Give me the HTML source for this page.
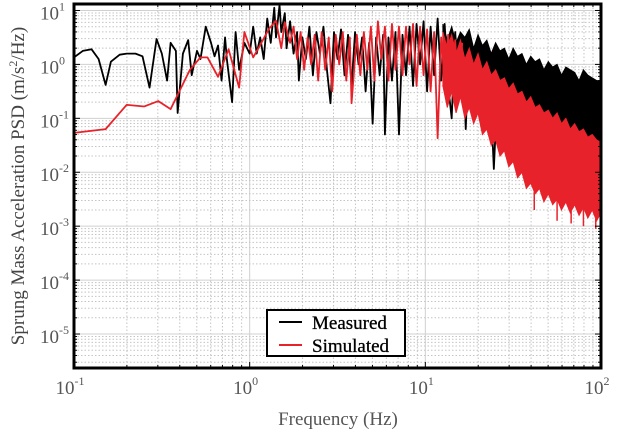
<!DOCTYPE html>
<html><head><meta charset="utf-8"><style>
html,body{margin:0;padding:0;background:#fff;}
svg text{font-family:"Liberation Serif",serif;}
</style></head><body>
<svg id="chart" width="617" height="433" viewBox="0 0 617 433" xmlns="http://www.w3.org/2000/svg">
<g id="grid"></g>
<g id="series"></g>
<g id="axes"></g>
<text x="338" y="425" text-anchor="middle" font-size="19" fill="#555">Frequency (Hz)</text>
<text transform="translate(24,186) rotate(-90)" text-anchor="middle" font-size="19" fill="#444">Sprung Mass Acceleration PSD (m/s<tspan font-size="12" dy="-7">2</tspan><tspan dy="7">/Hz)</tspan></text>
<g>
<rect x="267" y="310" width="138" height="46" fill="#fff" stroke="#000" stroke-width="2"/>
<line x1="279" y1="322" x2="302" y2="322" stroke="#000" stroke-width="2"/>
<text x="312" y="329" font-size="19" fill="#000" stroke="#000" stroke-width="0.3">Measured</text>
<line x1="279" y1="345" x2="302" y2="345" stroke="#e8222a" stroke-width="2"/>
<text x="312" y="352" font-size="19" fill="#000" stroke="#000" stroke-width="0.3">Simulated</text>
</g>
</svg>
<script>
// log10(frequency), log10(PSD)
const measuredLogF = [-1,-0.95,-0.9,-0.86,-0.82,-0.79,-0.74,-0.7,-0.65,-0.61,-0.57,-0.53,-0.5,-0.47,-0.45,-0.42,-0.41,-0.38,-0.35,-0.33,-0.3,-0.28,-0.25,-0.22,-0.2,-0.18,-0.16,-0.14,-0.13,-0.1,-0.08,-0.06,-0.03,0,0.02,0.04,0.06,0.08,0.1,0.12,0.14,0.15,0.17,0.18,0.2,0.21,0.23,0.25,0.27,0.28,0.3,0.32,0.34,0.36,0.38,0.4,0.42,0.44,0.46,0.48,0.5,0.52,0.54,0.56,0.58,0.6,0.62,0.64,0.66,0.68,0.7,0.72,0.74,0.76,0.77,0.79,0.81,0.83,0.85,0.87,0.89,0.91,0.93,0.95,0.97,0.99,1.01,1.03,1.05,1.07,1.09,1.11,1.13,1.15,1.17,1.19,1.21,1.23,1.25,1.27,1.3,1.33,1.36,1.39,1.42];
const measuredLogP = [0.13,0.25,0.28,0.1,-0.38,0.05,0.18,0.2,0.2,0.15,-0.43,0.47,0.2,-0.3,0.4,0.25,-0.9,0.2,0.45,-0.2,0.25,0.1,0.7,0.4,0.15,0.35,-0.3,0.5,0.1,-0.7,0.6,-0.1,0.4,0.2,0.7,0.2,0.5,0.1,0.85,0.4,1.05,0.5,1.1,0.6,0.95,0.3,0.8,0.2,0.6,-0.3,0.5,0.1,0.7,-0.2,0.6,0.2,0.7,-0.1,-0.72,0.6,0.1,0.65,-0.2,0.55,-0.4,0.6,0,0.5,-0.5,0.4,-1.1,0.5,-0.2,0.55,-1.3,0.5,-0.3,0.6,-1.3,0.55,-0.2,0.7,-0.4,0.75,0,0.8,-0.5,0.7,-0.2,0.85,-0.3,0.75,-0.4,-1.0,0.6,-0.3,0.5,-1.2,0.45,-0.4,0.4,-0.6,0.3,-1.94,0.2];
const bandLogF = [1.1,1.125,1.15,1.175,1.2,1.225,1.25,1.275,1.3,1.325,1.35,1.375,1.4,1.425,1.45,1.475,1.5,1.525,1.55,1.575,1.6,1.625,1.65,1.675,1.7,1.725,1.75,1.775,1.8,1.825,1.85,1.875,1.9,1.925,1.95,1.975,2.0];
const measuredBandHi = [0.75,0.45,0.7,0.4,0.6,0.5,0.65,0.3,0.55,0.35,0.45,0.2,0.4,0.25,0.3,0.1,0.3,0.15,0.2,0.0,0.15,0.05,0.1,-0.1,0.05,-0.05,0.0,-0.2,-0.05,-0.1,-0.15,-0.3,-0.1,-0.2,-0.25,-0.3,-0.3];
const measuredBandLo = [-0.3,-0.7,-0.4,-0.6,-0.5,-0.8,-0.55,-0.7,-0.6,-0.9,-0.7,-0.8,-0.85,-1.0,-0.9,-1.1,-1.0,-1.05,-1.2,-1.1,-1.3,-1.2,-1.25,-1.4,-1.3,-1.5,-1.35,-1.45,-1.6,-1.5,-1.55,-1.7,-1.5,-1.6,-1.65,-1.55,-1.6];

const simulatedLogF = [-1,-0.82,-0.7,-0.6,-0.52,-0.45,-0.34,-0.28,-0.24,-0.18,-0.12,-0.06,-0.03,0.02,0.05,0.11,0.15,0.18,0.2,0.23,0.25,0.27,0.29,0.31,0.33,0.35,0.37,0.39,0.41,0.43,0.45,0.47,0.49,0.51,0.53,0.55,0.57,0.58,0.61,0.63,0.65,0.67,0.69,0.71,0.73,0.75,0.77,0.79,0.81,0.83,0.85,0.87,0.89,0.91,0.93,0.95,0.97,0.99,1.01,1.03,1.05,1.07,1.09,1.11,1.13,1.15,1.17,1.19,1.21];
const simulatedLogP = [-1.27,-1.2,-0.75,-0.78,-0.68,-0.83,-0.1,0.13,0.13,-0.23,0.28,-0.43,0.6,0.13,0.3,0.66,0.81,0.3,0.78,0.4,0.7,0.1,0.6,-0.1,0.5,0,0.55,-0.3,0.6,-0.1,0.5,-0.5,0.55,0,0.6,-0.3,0.5,-0.72,0.55,-0.2,0.6,-0.1,0.7,-0.3,0.8,0.1,0.7,-0.3,0.75,-0.1,0.7,-0.2,0.7,0,0.75,-0.4,0.7,-0.2,0.65,-0.5,0.6,-1.37,0.5,-0.3,0.55,-0.5,0.45,-0.6,0.4];
const simulatedBandHi = [0.6,0.3,0.55,0.2,0.45,0.1,0.3,0.0,0.2,-0.1,0.05,-0.2,-0.1,-0.3,-0.25,-0.45,-0.35,-0.55,-0.5,-0.7,-0.6,-0.8,-0.75,-0.9,-0.85,-1.0,-0.9,-1.1,-1.0,-1.2,-1.1,-1.25,-1.2,-1.35,-1.3,-1.4,-1.45];
const simulatedBandLo = [-0.4,-0.8,-0.5,-0.9,-0.6,-1.0,-0.8,-1.1,-0.9,-1.3,-1.2,-1.5,-1.4,-1.7,-1.6,-1.9,-1.8,-2.1,-2.0,-2.3,-2.2,-2.4,-2.3,-2.55,-2.4,-2.6,-2.5,-2.7,-2.55,-2.75,-2.6,-2.8,-2.65,-2.85,-2.7,-2.9,-2.75];
const simulatedDipLogF = [1.62,1.75,1.83,1.9,1.97];
const simulatedDipLogP = [-2.7,-2.9,-2.95,-3.0,-3.05];
const measuredDipLogF = [1.55,1.68,1.78];
const measuredDipLogP = [-1.5,-1.7,-1.8];

const X0=74, X1=601, Y0=4, Y1=368;
const xMin=-1, xMax=2, yTop=1.12, yBot=-5.63;
const xs = lf => X0 + (lf - xMin) / (xMax - xMin) * (X1 - X0);
const ys = lp => Y0 + (yTop - lp) / (yTop - yBot) * (Y1 - Y0);
const NS = "http://www.w3.org/2000/svg";
function mk(tag, attrs, parent){const e=document.createElementNS(NS,tag);for(const k in attrs)e.setAttribute(k,attrs[k]);parent.appendChild(e);return e;}

const grid=document.getElementById('grid'), axes=document.getElementById('axes'), series=document.getElementById('series');
for(let d=-1; d<2; d++){
  for(let m=1;m<10;m++){
    const x=xs(d+Math.log10(m));
    const g=mk('line',{x1:x,x2:x,y1:Y0,y2:Y1,stroke:m===1?'#d0d0d0':'#c4c4c4','stroke-width':1,'stroke-dasharray':m===1?'none':'1.5,2'},grid);
    
    
  }
}
for(let d=-6; d<2; d++){
  for(let m=1;m<10;m++){
    const lv=d+Math.log10(m); if(lv<yBot||lv>yTop) continue;
    const y=ys(lv);
    const g=mk('line',{x1:X0,x2:X1,y1:y,y2:y,stroke:m===1?'#d0d0d0':'#c4c4c4','stroke-width':1,'stroke-dasharray':m===1?'none':'1.5,2'},grid);
    
    
  }
}
function band(lf,hi,lo,color,name){
  let pts=lf.map((f,i)=>xs(f)+','+ys(hi[i]));
  pts=pts.concat(lf.slice().reverse().map((f,i)=>xs(f)+','+ys(lo[lo.length-1-i])));
  const p=mk('polygon',{points:pts.join(' '),fill:color,stroke:color,'stroke-width':1},series);
  
  
}
function line(lf,lp,color,name){
  const p=mk('polyline',{points:lf.map((f,i)=>xs(f)+','+ys(lp[i])).join(' '),fill:'none',stroke:color,'stroke-width':1.8,'stroke-linejoin':'round'},series);
  
  
}
function dips(lf,lp,bandF,bandLo,color,name){
  lf.forEach((f,i)=>{
    let j=0; while(j<bandF.length-2 && bandF[j+1]<f) j++;
    const t=(f-bandF[j])/(bandF[j+1]-bandF[j]);
    const base=bandLo[j]+t*(bandLo[j+1]-bandLo[j]);
    const l=mk('line',{x1:xs(f),x2:xs(f),y1:ys(base),y2:ys(lp[i]),stroke:color,'stroke-width':1.5},series);
    
    
  });
}
band(bandLogF,measuredBandHi,measuredBandLo,'#000','measured-band');
line(measuredLogF,measuredLogP,'#000','measured-line');
dips(measuredDipLogF,measuredDipLogP,bandLogF,measuredBandLo,'#000','measured-dip');
band(bandLogF,simulatedBandHi,simulatedBandLo,'#e8222a','simulated-band');
line(simulatedLogF,simulatedLogP,'#e8222a','simulated-line');
dips(simulatedDipLogF,simulatedDipLogP,bandLogF,simulatedBandLo,'#e8222a','simulated-dip');

const fr=mk('rect',{x:X0,y:Y0,width:X1-X0,height:Y1-Y0,fill:'none',stroke:'#000','stroke-width':3},axes);


for(let d=-1; d<=2; d++){
  for(let m=1;m<10;m++){
    const lv=d+Math.log10(m); if(lv>xMax+1e-9) break;
    const x=xs(lv), L=m===1?6:3;
    mk('line',{x1:x,x2:x,y1:Y1,y2:Y1-L,stroke:'#000','stroke-width':1},axes);
    mk('line',{x1:x,x2:x,y1:Y0,y2:Y0+L,stroke:'#000','stroke-width':1},axes);
    if(m===1){
      const t=mk('text',{x:x-4,y:394,'text-anchor':'middle','font-size':19,fill:'#555'},axes);
      
      
      t.innerHTML='10<tspan font-size="12" dy="-9">'+(d<0?'-'+(-d):d)+'</tspan>';
    }
  }
}
for(let d=-6; d<2; d++){
  for(let m=1;m<10;m++){
    const lv=d+Math.log10(m); if(lv<yBot||lv>yTop) continue;
    const y=ys(lv), L=m===1?6:3;
    mk('line',{x1:X0,x2:X0+L,y1:y,y2:y,stroke:'#000','stroke-width':1},axes);
    mk('line',{x1:X1,x2:X1-L,y1:y,y2:y,stroke:'#000','stroke-width':1},axes);
    if(m===1){
      const t=mk('text',{x:40,y:y+9,'text-anchor':'start','font-size':19,fill:'#555'},axes);
      
      
      t.innerHTML='10<tspan font-size="12" dy="-9">'+(d<0?'-'+(-d):d)+'</tspan>';
    }
  }
}
</script>
</body></html>
